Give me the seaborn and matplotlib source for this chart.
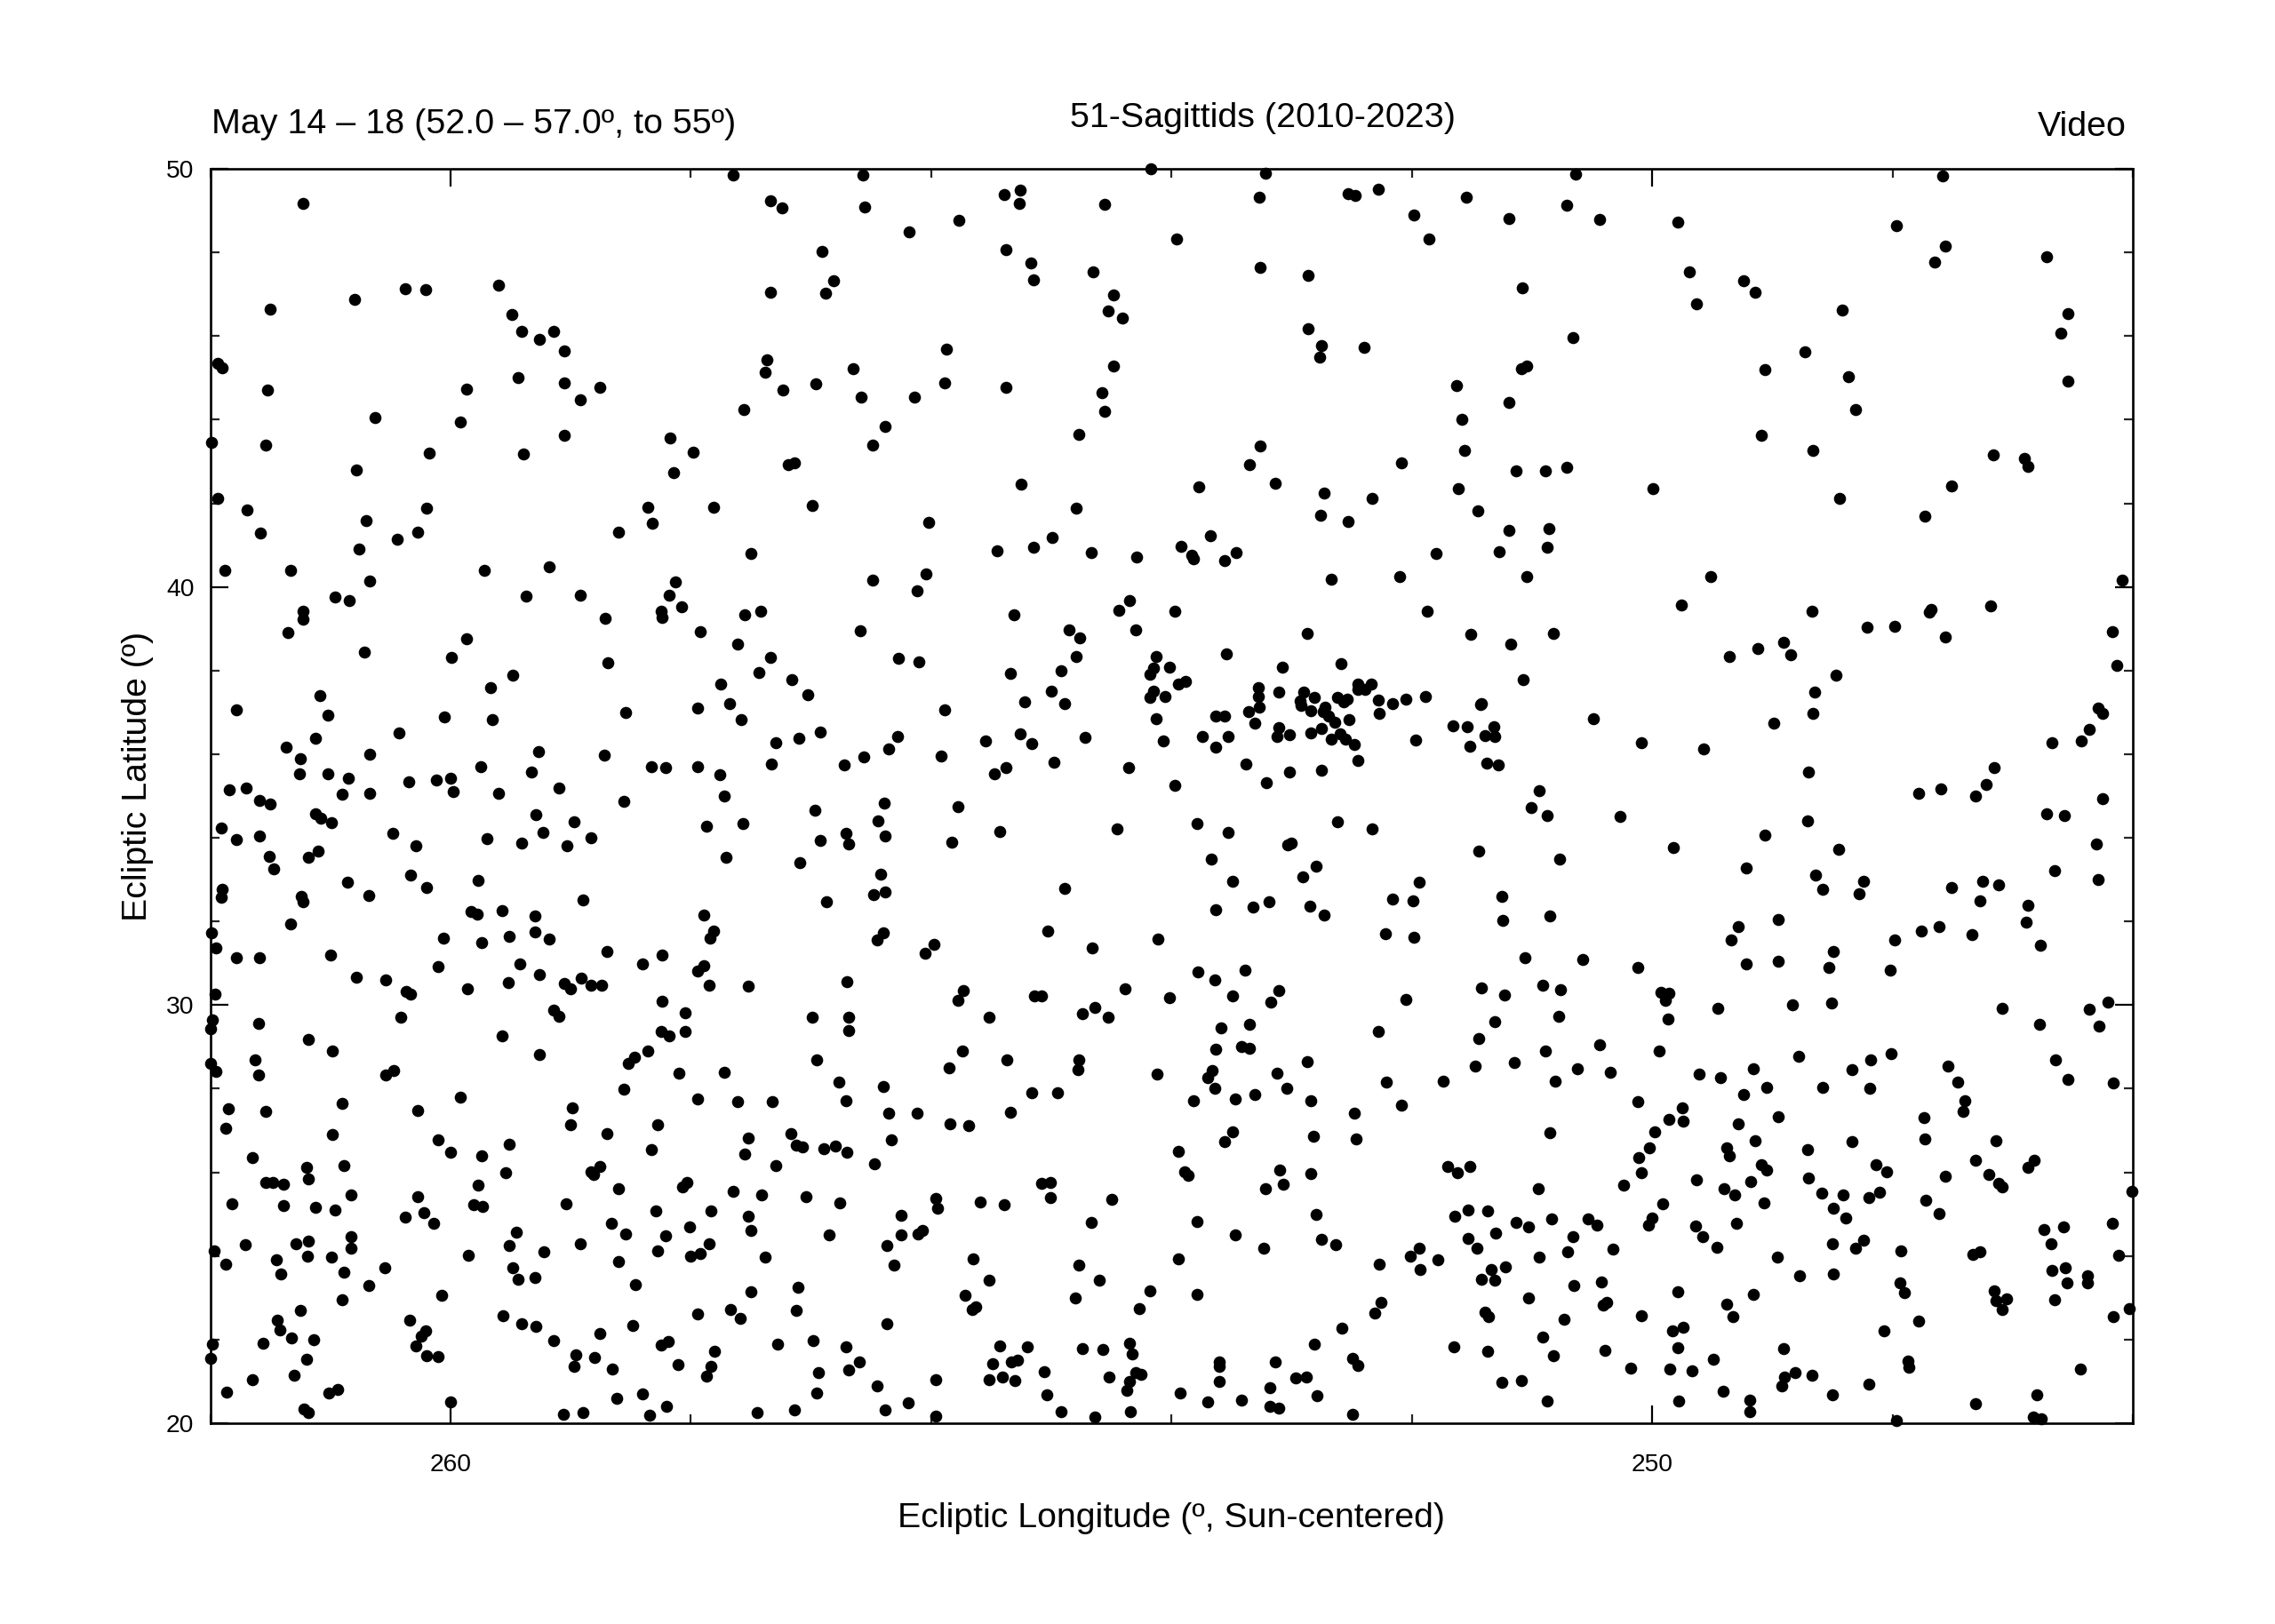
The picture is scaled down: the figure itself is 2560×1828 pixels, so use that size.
import pandas as pd
import seaborn as sns
import matplotlib.pyplot as plt

# values, one pair of lists per part of the field
lon_a = [261.23,260.80,260.38,260.21,259.60,261.50,259.49,259.41,259.26,259.14,259.05,261.94,261.90,261.52,259.87,259.44,259.05,258.76,258.92,260.63,259.92,259.05,258.17,257.98,261.99,261.54,260.18,259.39,260.78,258.14,261.94,261.69,260.20,258.36,260.70,258.32,261.58,260.44,260.27,258.60,260.76,261.88,261.33,259.72,259.18,260.67,258.13]
lat_a = [49.18,46.87,47.14,47.11,47.22,46.64,46.51,46.12,45.93,46.12,45.65,45.35,45.24,44.71,44.73,45.00,44.88,44.77,44.47,44.05,43.95,43.63,43.56,43.22,43.46,43.40,43.20,43.19,42.80,42.74,42.11,41.85,41.88,41.91,41.59,41.52,41.28,41.15,41.32,41.32,40.91,40.39,40.39,40.39,40.49,40.15,40.12]

lon_b = [257.65,256.57,254.17,257.34,257.24,256.55,255.39,255.26,255.27,254.56,255.77,256.18,253.96,256.91,255.38,255.17,255.15,254.65,256.81,257.34,256.88,254.48,254.53,254.41,255.87,257.37,257.38,256.65,254.48,256.96,257.23,255.89,255.38,256.58,256.14,254.58,257.56,254.56,256.38,254.77,256.49,257.19,257.14,255.25,257.81,256.99,254.79,256.02,254.99,255.15,255.45,257.50,254.67,254.29,253.92,256.49,256.04]
lat_b = [49.86,49.86,50.00,49.24,49.06,49.09,49.39,49.48,49.18,49.16,48.76,48.50,48.32,48.02,48.07,47.75,47.34,47.53,47.33,47.05,47.02,46.98,46.59,46.43,45.69,45.43,45.14,45.22,45.28,44.85,44.71,44.88,44.77,44.53,44.53,44.65,44.24,44.19,43.83,43.65,43.39,42.93,42.97,42.45,41.90,41.94,41.88,41.54,41.18,40.95,40.86,40.81,40.83,40.71,40.97,40.16,40.32]

lon_c = [253.22,250.64,253.27,252.53,252.47,252.28,251.55,251.98,250.71,251.19,250.44,251.86,253.26,252.86,251.08,252.86,252.75,252.40,252.77,250.66,251.09,251.04,251.63,251.19,251.58,253.26,253.35,251.56,252.09,251.13,250.89,250.71,253.77,253.14,252.73,251.61,249.99,252.33,251.45,252.76,252.53,251.19,250.86,253.68,253.46,253.83,253.82,253.56,251.80,251.27,250.87,252.67,252.10,251.04]
lat_c = [49.89,49.88,49.33,49.41,49.36,49.52,49.31,48.90,49.12,48.81,48.78,48.33,47.65,47.46,47.16,46.17,45.77,45.73,45.49,45.96,45.23,45.29,44.81,44.42,44.00,43.38,42.93,43.27,42.97,42.77,42.78,42.86,42.40,42.48,42.25,42.36,42.36,42.12,41.83,41.72,41.56,41.36,41.39,41.22,40.83,40.76,40.68,40.63,40.80,40.85,40.94,40.18,40.24,40.24]

lon_d = [247.58,249.79,247.97,247.56,247.65,246.72,249.69,249.24,249.14,249.63,248.42,246.54,246.60,248.73,249.06,248.37,246.54,248.31,249.09,248.66,247.16,246.90,246.87,247.51,248.44,247.73,249.51,246.09]
lat_d = [49.83,48.73,48.65,48.16,47.77,47.90,47.54,47.33,47.04,46.77,46.63,46.54,46.06,45.63,45.20,45.02,44.92,44.24,43.63,43.27,43.16,43.07,42.88,42.42,42.11,41.69,40.25,40.17]

lon_e = [260.96,260.84,259.37,258.92,258.18,258.08,258.25,258.24,261.23,261.23,258.71,261.35,259.87,260.72,259.99,258.69,259.48,259.67,261.09,258.54,261.78,261.02,260.05,259.65,260.43,261.12,259.27,261.37,261.25,260.67,258.72,258.33,258.21,259.75,261.26,261.02,259.33,260.85,260.35,260.12,260.00,261.84,261.70,259.98,261.59,261.50,260.90,260.67,259.60,259.10,258.56,261.12,261.08,260.99,259.29,258.97,261.91,260.48,259.23,261.78,261.59,259.70,259.41,259.03,258.83,260.29,261.10,261.18,261.51,261.47,260.86,260.33,259.77,260.20,261.90,261.91,261.24,261.23,260.68,258.90,259.83,259.78,259.57,259.30,261.33,261.99,261.95,259.30,259.51,260.06,259.74,259.18,261.78,261.59,261.00,258.70,258.24,259.42,258.40,260.10,260.78,260.54,259.26,260.37,260.33,259.52,259.86,258.91,259.05,259.00,258.83,258.74,261.96,258.24,258.05,259.14]
lat_e = [39.76,39.67,39.79,39.81,39.80,39.52,39.42,39.26,39.42,39.23,39.24,38.91,38.77,38.45,38.32,38.18,37.89,37.59,37.41,36.99,37.07,36.94,36.89,36.83,36.50,36.38,36.07,36.17,35.90,35.99,35.97,35.70,35.67,35.70,35.53,35.53,35.58,35.43,35.34,35.38,35.43,35.14,35.20,35.10,34.89,34.81,35.04,35.06,35.07,35.20,34.88,34.58,34.47,34.37,34.55,34.39,34.23,34.11,34.13,33.95,34.05,33.97,33.87,33.82,34.00,33.80,33.69,33.53,33.55,33.26,32.93,33.11,32.98,32.82,32.77,32.58,32.60,32.48,32.62,32.51,32.23,32.17,32.25,32.14,31.94,31.73,31.36,31.75,31.65,31.59,31.50,31.58,31.13,31.14,31.20,31.29,31.19,30.99,30.99,30.92,30.67,30.60,30.73,30.32,30.26,30.54,30.40,30.64,30.51,30.39,30.47,30.47,30.26,30.10,29.82,29.88]

lon_f = [256.12,257.55,257.42,255.31,254.44,254.35,253.97,257.92,256.59,254.85,254.30,254.76,257.61,257.34,256.27,256.10,254.79,254.13,257.43,255.34,254.92,254.15,254.18,254.02,257.16,257.75,255.00,253.94,257.03,254.15,254.18,254.05,257.68,255.22,254.89,255.89,257.94,254.13,257.58,256.92,257.10,257.29,256.28,255.26,255.16,254.72,254.07,255.55,256.35,256.56,255.92,256.72,257.33,257.94,254.98,255.38,255.47,254.36,257.76,257.72,253.97,256.39,256.97,255.78,257.87,257.57,256.44,256.71,256.38,256.69,256.92,255.83,255.43,254.45,257.71,257.09,256.42,256.48,256.38,254.89,256.87,257.89,257.81,257.84,256.40,256.45,255.03,254.11,255.98,256.05,254.66,257.89,257.94,257.85,257.52,256.70,255.73,255.78,254.39,255.14,255.08,254.02,254.64]
lat_f = [39.91,39.34,39.42,39.34,39.44,39.67,39.41,38.92,38.96,38.97,38.97,38.79,38.63,38.31,38.30,38.21,38.34,38.33,37.95,37.94,38.00,38.06,37.92,38.08,37.79,37.68,37.51,37.67,37.42,37.50,37.35,37.38,37.21,37.26,37.21,37.06,37.11,36.84,36.83,36.54,36.38,36.28,36.43,36.49,36.26,36.41,36.31,36.31,36.13,35.94,35.95,35.75,35.77,35.70,35.80,35.69,35.54,35.69,35.50,35.01,35.26,34.84,34.66,34.75,34.27,34.35,34.40,34.11,34.05,33.85,33.93,33.89,34.16,34.21,33.54,33.41,33.13,32.65,32.70,32.80,32.48,32.16,31.78,31.60,31.72,31.56,31.77,31.58,31.46,31.24,31.36,30.94,30.82,30.48,30.45,30.56,30.35,30.12,30.40,30.21,30.21,30.17,29.95]

lon_g = [251.87,252.87,251.51,251.18,250.82,253.54,253.08,252.59,251.07,253.88,253.28,253.28,253.11,252.90,252.93,252.92,252.81,252.62,252.57,252.54,252.45,252.45,252.39,252.34,252.28,252.16,252.05,251.89,253.27,253.36,252.84,252.72,252.74,252.69,252.64,252.52,252.27,251.43,251.42,253.63,253.56,250.49,253.31,251.66,251.54,251.32,253.11,253.12,253.02,252.84,252.75,252.60,252.55,252.67,252.48,253.74,253.53,253.63,251.97,251.39,251.31,251.52,250.09,253.38,252.45,253.02,252.75,251.38,251.28,253.21,250.94,251.01,250.87,250.27,253.79,252.62,252.33,253.53,253.03,253.00,251.44,253.67,250.77,252.80,252.91,253.49,251.94,252.16,251.99,251.25,253.19,253.32,253.63,252.85,252.73,250.85,251.24,252.22,251.98,251.06,250.58,250.12,253.78,253.39,253.64,253.49,253.11,253.17,251.42,251.23,250.91,250.76,249.93,249.86,249.89,252.05]
lat_g = [39.42,38.89,38.86,38.63,38.89,38.40,38.08,38.16,37.78,37.74,37.59,37.39,37.48,37.48,37.28,37.16,37.35,37.35,37.25,37.32,37.67,37.56,37.55,37.67,37.30,37.21,37.32,37.38,37.12,37.01,37.03,37.13,37.02,36.91,36.77,36.82,36.97,37.18,37.21,36.91,36.91,36.85,36.75,36.68,36.65,36.65,36.64,36.42,36.47,36.51,36.62,36.48,36.37,36.35,36.24,36.42,36.43,36.17,36.34,36.45,36.43,36.19,36.27,35.77,35.84,35.57,35.62,35.79,35.75,35.31,35.13,34.72,34.53,34.52,34.35,34.38,34.21,34.12,33.84,33.87,33.69,33.50,33.50,33.33,33.07,32.95,32.93,32.53,32.50,32.60,32.48,32.35,32.28,32.36,32.16,32.14,32.02,31.70,31.62,31.14,31.09,30.90,30.80,30.83,30.60,30.21,30.35,30.07,30.41,30.24,30.47,30.36,30.31,30.29,30.12,30.14]

lon_h = [249.76,248.67,247.68,247.69,247.18,248.21,247.98,247.56,246.17,248.91,249.12,249.36,248.85,248.47,246.13,248.65,248.66,248.99,246.29,246.25,246.36,246.43,246.67,249.57,248.70,247.15,247.22,247.60,247.78,247.31,246.25,246.72,246.57,248.71,249.06,249.82,248.45,246.30,249.22,246.65,248.64,248.58,248.24,248.28,247.25,247.12,247.51,247.27,246.29,246.87,248.95,249.28,246.89,249.34,247.61,247.76,247.34,247.98,248.49,246.77,249.22,248.95,248.53,248.02,249.45,248.83,248.51,247.09,246.36,246.21]
lat_h = [39.56,39.42,39.47,39.40,39.55,39.04,39.06,38.81,38.94,38.67,38.52,38.34,38.37,37.90,38.12,37.48,36.98,36.75,37.10,36.98,36.59,36.32,36.28,36.13,35.57,35.67,35.28,35.16,35.06,34.99,34.93,34.58,34.53,34.40,34.06,33.77,33.73,33.85,33.28,33.22,33.11,32.77,32.97,32.67,32.97,32.87,32.82,32.50,33.01,32.38,32.04,31.87,31.99,31.56,31.87,31.76,31.69,31.55,31.29,31.42,30.99,31.04,30.89,30.83,29.92,30.01,30.05,29.92,29.90,30.08]

lon_i = [261.98,262.00,261.60,260.41,259.10,259.57,261.18,260.98,258.25,258.18,258.05,262.00,261.63,261.95,261.60,258.36,258.47,258.52,259.26,260.54,260.47,258.10,258.56,259.92,261.85,261.54,260.90,260.27,258.99,259.00,261.87,260.98,258.70,258.28,260.10,259.51,260.00,258.33,261.65,259.74,261.20,260.89,258.76,258.83,258.81,259.54,261.18,261.54,261.48,261.39,259.77,258.03,258.07,258.60,260.83,261.82,261.39,261.12,259.81,259.73,260.27,259.04,260.96,258.29,260.22,260.38,260.14,258.66,258.01,259.45,258.54,258.21,260.83,261.18,261.29,261.71,258.92,259.51,260.83,261.97,261.19,260.99,259.22,259.85,258.28,258.00,258.60,261.45,261.87,261.41,260.55,259.48,260.89,259.44,259.30,260.68,258.46,260.07,260.90,261.25,261.44,261.42,259.56,259.41,259.29,260.34,260.21,260.24,261.32,261.14,261.56,258.48,258.76,259.14,261.98,258.19,258.25,260.29,260.20,260.10,262.00,261.20,258.96,258.80,258.97,258.11,258.65,261.30,261.65,261.86,261.01,260.94,258.40,258.62,260.00,261.22,261.18,258.20,259.06,258.90,258.34]
lat_i = [29.64,29.43,29.57,29.72,29.74,29.27,29.17,28.90,29.36,29.26,29.36,28.60,28.68,28.41,28.33,28.91,28.75,28.60,28.81,28.33,28.43,28.38,27.99,27.79,27.53,27.45,27.64,27.48,27.55,27.14,27.05,26.91,26.92,27.13,26.77,26.68,26.49,26.55,26.36,26.39,26.12,26.16,26.13,26.02,25.94,25.99,25.85,25.75,25.75,25.71,25.70,25.76,25.65,25.60,25.46,25.24,25.20,25.17,25.22,25.18,25.41,25.25,25.09,25.07,25.04,24.92,24.79,24.78,24.70,24.56,24.52,24.48,24.46,24.36,24.30,24.26,24.29,24.24,24.18,24.12,23.99,23.97,24.11,24.02,24.13,23.99,23.86,23.90,23.80,23.58,23.71,23.71,23.61,23.44,23.48,23.30,23.31,23.07,22.95,22.69,22.46,22.24,22.58,22.39,22.31,22.46,22.20,22.09,22.03,22.00,21.91,22.34,22.14,21.97,21.89,21.96,21.88,21.85,21.61,21.59,21.55,21.54,21.64,21.57,21.36,21.41,21.29,21.15,21.05,20.74,20.73,20.81,20.71,20.59,20.52,20.34,20.26,20.41,20.21,20.25,20.20]

lon_j = [256.99,256.69,256.69,255.52,254.74,254.53,255.74,255.37,254.77,254.78,256.95,255.85,257.72,254.12,256.77,256.40,257.94,257.61,257.32,256.71,255.16,254.95,255.34,256.35,256.12,255.84,255.69,257.52,257.17,257.12,257.07,256.89,256.80,256.70,256.33,257.55,253.94,257.29,256.47,257.65,257.41,257.04,256.76,255.08,255.01,255.96,255.95,255.59,255.39,255.01,254.50,257.83,257.52,256.25,254.67,257.50,256.85,256.25,256.07,256.11,257.85,256.37,257.92,257.38,255.65,256.31,254.77,253.94,255.52,254.60,257.11,257.50,255.72,254.18,254.80,255.63,255.66,257.67,257.59,257.94,257.12,254.27,256.37,257.28,256.98,256.71,255.43,255.20,254.74,254.57,254.35,254.33,257.80,257.83,255.49,255.33,255.28,256.60,257.87,256.94,256.69,255.06,255.96,255.52,255.41,255.30,254.52,254.30,254.25,254.35,254.37,256.45,256.95,255.04,253.93,256.19,257.45,257.14,256.38,255.96,254.92,254.34,254.64]
lat_j = [29.72,29.71,29.39,29.72,29.79,29.72,28.91,28.70,28.70,28.45,28.68,28.49,28.40,28.35,28.16,28.06,27.76,27.70,27.69,27.72,27.90,27.90,27.44,27.42,27.41,27.17,27.12,26.81,26.93,26.64,26.60,26.57,26.62,26.48,26.77,26.44,26.50,26.16,26.21,25.54,25.46,25.41,25.26,25.74,25.75,25.38,25.15,25.29,25.23,25.40,25.36,25.07,24.94,24.97,24.80,24.61,24.51,24.51,24.61,24.53,24.29,24.25,24.05,23.97,23.94,23.78,23.78,23.92,23.42,23.42,23.26,23.14,23.05,23.17,23.00,22.79,22.73,22.73,22.51,22.61,22.69,22.75,22.38,21.89,21.97,21.83,21.85,21.83,21.78,21.77,21.92,21.65,21.73,21.37,21.42,21.47,21.51,21.46,21.12,21.21,21.27,21.23,21.05,21.04,21.10,21.02,21.10,21.21,21.17,21.00,20.78,20.90,20.72,20.69,20.73,20.48,20.25,20.32,20.32,20.17,20.28,20.27,20.14]

lon_k = [253.59,253.35,252.28,251.31,250.78,249.87,251.44,253.63,253.42,253.35,250.89,250.44,249.94,252.87,251.47,251.15,253.66,253.70,253.12,250.62,250.35,253.64,253.04,252.21,251.74,250.81,253.31,253.82,253.47,252.84,252.09,250.12,252.48,249.86,253.49,253.56,252.82,252.46,250.85,249.98,250.02,250.11,253.89,253.86,253.10,252.84,251.70,251.62,251.52,250.09,253.22,253.07,250.95,250.24,249.91,252.80,253.79,251.53,251.37,251.64,251.13,251.03,250.84,250.53,250.46,250.00,250.03,253.47,252.75,252.63,253.23,251.94,251.30,251.53,251.46,250.66,252.01,251.78,251.93,252.27,250.94,250.70,250.33,251.34,251.22,251.42,251.31,253.79,250.65,250.42,251.03,252.26,252.31,250.38,250.41,251.39,251.36,250.73,250.09,252.58,250.91,252.81,251.65,251.37,250.39,252.49,252.45,253.60,253.60,253.14,250.82,250.18,249.85,252.97,252.88,253.60,253.18,251.25,251.09,252.79,253.70,253.42,253.18,253.11,250.87,252.49]
lat_k = [29.45,29.53,29.38,29.60,29.73,29.66,29.21,28.94,29.01,28.97,28.90,29.05,28.90,28.65,28.54,28.62,28.43,28.27,28.38,28.48,28.39,28.02,28.00,28.16,28.18,28.18,27.86,27.72,27.75,27.72,27.61,27.69,27.41,27.26,26.97,26.73,26.86,26.80,26.94,26.97,26.58,26.36,26.02,25.92,26.06,25.96,26.15,25.99,26.14,25.99,25.60,25.71,25.61,25.69,25.25,25.00,24.83,25.10,25.07,24.94,24.80,24.70,24.88,24.88,24.73,24.90,24.73,24.51,24.39,24.26,24.19,24.19,24.55,24.41,24.19,24.47,23.99,23.90,23.67,23.80,23.98,24.11,24.17,23.68,23.73,23.44,23.43,23.09,23.29,23.37,23.00,22.90,22.63,22.88,22.83,22.66,22.56,22.49,22.58,22.27,22.07,21.90,21.82,21.73,21.75,21.55,21.39,21.47,21.35,21.46,21.61,21.32,21.30,21.09,21.10,20.99,20.86,20.97,21.01,20.66,20.51,20.55,20.41,20.37,20.53,20.22]

lon_l = [246.78,246.28,248.78,248.01,248.18,248.34,246.64,247.54,249.61,249.43,249.16,247.46,249.05,248.58,248.19,249.24,246.54,246.16,247.40,247.41,249.75,249.74,248.95,247.74,249.28,249.14,247.73,248.34,247.14,249.38,249.36,248.71,247.31,246.82,246.87,249.09,249.05,248.14,248.05,247.56,247.20,249.63,249.18,248.70,247.12,247.09,249.40,249.31,248.59,248.41,248.11,248.20,246.01,247.72,249.07,248.49,247.61,248.39,249.64,249.30,246.74,246.58,246.17,249.58,248.24,249.46,248.50,248.31,246.68,247.93,247.33,247.27,246.12,248.96,248.77,248.49,246.67,246.56,246.38,246.38,247.94,246.55,247.90,249.79,249.16,247.15,247.14,247.05,247.09,246.65,249.38,249.33,246.03,246.16,247.78,249.74,249.83,248.07,249.79,248.91,249.49,247.87,247.86,246.44,249.67,248.81,248.67,248.90,248.92,248.20,249.41,248.50,249.19,249.78,247.31,246.80,249.19,247.97,246.83,246.76]
lat_l = [29.54,29.49,28.77,28.84,28.70,28.45,28.68,28.54,28.35,28.26,28.48,28.16,28.03,28.03,28.01,27.87,28.23,28.13,27.72,27.45,27.55,27.23,27.33,27.30,27.16,26.75,26.79,26.73,26.75,26.58,26.40,26.55,26.29,26.29,26.12,26.19,26.05,26.18,26.02,25.91,25.95,25.82,25.78,25.87,25.73,25.65,25.60,25.45,25.50,25.46,25.53,25.39,25.54,25.34,25.27,25.14,25.02,24.91,24.71,24.78,24.64,24.70,24.79,24.46,24.38,24.21,24.29,24.18,24.29,24.12,24.03,24.09,24.02,23.98,23.52,23.56,23.65,23.71,23.52,23.36,23.36,23.36,23.13,23.15,23.09,23.17,22.94,22.97,22.73,22.95,22.84,22.56,22.74,22.56,22.44,22.30,22.22,22.20,21.80,21.78,21.53,21.49,21.34,21.29,21.25,21.22,21.15,21.10,20.90,20.94,20.76,20.69,20.55,20.54,20.46,20.67,20.27,20.07,20.15,20.10]

longitudes = lon_a + lon_b + lon_c + lon_d + lon_e + lon_f + lon_g + lon_h + lon_i + lon_j + lon_k + lon_l
latitudes = lat_a + lat_b + lat_c + lat_d + lat_e + lat_f + lat_g + lat_h + lat_i + lat_j + lat_k + lat_l

x_major = [260, 250]
x_minor = [262, 258, 256, 254, 252, 248, 246]
y_major = [20, 30, 40, 50]
y_minor = [22, 24, 26, 28, 32, 34, 36, 38, 42, 44, 46, 48]

sns.set_style("white")
plt.rcParams['font.family'] = ['Liberation Sans', 'DejaVu Sans']
plt.rcParams['text.color'] = 'black'
plt.rcParams['axes.labelcolor'] = 'black'

meteors = pd.DataFrame({"lon": longitudes, "lat": latitudes})

fig = plt.figure(figsize=(12.8, 9.14), dpi=200)
ax = fig.add_axes([236.5 / 2560, 1 - 1602 / 1828, 2163.5 / 2560, 1412 / 1828])

sns.scatterplot(data=meteors, x="lon", y="lat", color="black", s=24, linewidth=0,
                clip_on=False, zorder=5, ax=ax)

ax.set_xlim(262, 246)
ax.set_ylim(20, 50)
ax.set_xticks(x_major)
ax.set_xticks(x_minor, minor=True)
ax.set_yticks(y_major)
ax.set_yticks(y_minor, minor=True)
ax.tick_params(which="major", direction="in", length=7.2, width=0.8, top=True, right=True,
               bottom=True, left=True, labelsize=10.2, colors="black")
ax.tick_params(axis="x", which="major", pad=12.2)
ax.tick_params(axis="y", which="major", pad=6.5)
ax.tick_params(which="minor", direction="in", length=3.6, width=0.8, top=True, right=True,
               bottom=True, left=True)
for spine in ax.spines.values():
    spine.set_linewidth(0.95)
    spine.set_color("black")

ax.set_xlabel("Ecliptic Longitude (º, Sun-centered)", fontsize=14.15, labelpad=10.6)
ax.set_ylabel("Ecliptic Latitude (º)", fontsize=14.15, labelpad=5, y=0.5156)

fig.text(238 / 2560, 1 - 140 / 1828, "May 14 – 18 (52.0 – 57.0º, to 55º)", fontsize=14.2,
         ha="left", va="center")
fig.text(1421.5 / 2560, 1 - 133 / 1828, "51-Sagittids (2010-2023)", fontsize=14.2,
         ha="center", va="center")
fig.text(2393 / 2560, 1 - 143 / 1828, "Video", fontsize=14.2, ha="right", va="center")

fig.savefig("out.png", dpi=200)
